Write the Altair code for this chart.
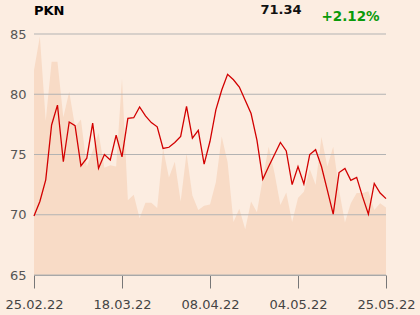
import altair as alt
import pandas as pd

# closing prices (trading-day index 0..60)
price = [69.9, 71.1, 72.9, 77.45, 79.1, 74.4, 77.7, 77.4, 74.05, 74.7,
         77.6, 73.85, 75.0, 74.55, 76.6, 74.8, 78.0, 78.05, 78.95, 78.2,
         77.65, 77.3, 75.5, 75.6, 76.0, 76.5, 79.0, 76.35, 77.0, 74.2,
         76.1, 78.7, 80.35, 81.65, 81.2, 80.6, 79.5, 78.4, 76.2, 72.95,
         74.0, 75.0, 76.0, 75.3, 72.5, 74.0, 72.55, 75.0, 75.4, 74.0,
         72.05, 70.05, 73.5, 73.85, 72.85, 73.1, 71.5, 70.05, 72.6, 71.8,
         71.34]
# background volume-like area (drawn on price scale)
volume = [82.0, 84.8, 77.8, 82.7, 82.7, 78.1, 80.2, 77.3, 77.9, 74.0,
          75.3, 76.8, 73.9, 74.1, 74.0, 81.3, 71.2, 71.65, 69.7, 71.0,
          71.0, 70.55, 75.5, 73.1, 74.4, 71.1, 75.1, 71.6, 70.4, 70.75,
          70.85, 72.7, 76.5, 74.35, 69.4, 70.5, 68.8, 71.1, 70.2, 73.0,
          75.65, 73.45, 70.8, 71.85, 69.4, 71.4, 71.9, 73.8, 72.5, 76.45,
          74.0, 75.65, 72.05, 69.35, 70.95, 71.8, 71.8, 71.95, 70.4, 70.95,
          70.6]
tick_index = [0, 15, 30, 45, 60]
tick_labels = ["25.02.22", "18.03.22", "08.04.22", "04.05.22", "25.05.22"]
y_ticks = [65, 70, 75, 80, 85]

df = pd.DataFrame({"i": list(range(len(price))), "price": price, "vol": volume})
gdf = pd.DataFrame({"g": y_ticks})

label_map = "{" + ",".join(f"'{i}':'{l}'" for i, l in zip(tick_index, tick_labels)) + "}"

xscale = alt.Scale(domain=[0, 60], nice=False, zero=False)
yscale = alt.Scale(domain=[65, 85], nice=False, zero=False)

x_axis = alt.Axis(values=tick_index, labelExpr=f"{label_map}[datum.value]",
                  grid=False, domain=True, domainColor="#a8a8a8", ticks=True,
                  tickSize=13, tickColor="#777777", labelFlush=False,
                  labelFontSize=13, labelColor="#444444", labelPadding=10,
                  labelFont="DejaVu Sans", title=None, zindex=1)
y_axis = alt.Axis(values=y_ticks, grid=False, domain=False,
                  ticks=False, labelFontSize=13, labelColor="#555555",
                  labelPadding=8, labelFont="DejaVu Sans", title=None)

area = alt.Chart(df).mark_area(color="#f8dbc6").encode(
    x=alt.X("i:Q", scale=xscale, axis=x_axis),
    y=alt.Y("vol:Q", scale=yscale, axis=y_axis),
    y2=alt.datum(65),
)
grid = alt.Chart(gdf).mark_rule(color="#b3b3b3", strokeWidth=1).encode(
    y=alt.Y("g:Q", scale=yscale),
)
line = alt.Chart(df).mark_line(color="#d20000", strokeWidth=1.3).encode(
    x=alt.X("i:Q", scale=xscale),
    y=alt.Y("price:Q", scale=yscale),
)

labels = pd.DataFrame({"t": ["PKN", "71.34", "+2.12%"]})
t1 = alt.Chart(labels).transform_filter("datum.t == 'PKN'").mark_text(
    font="DejaVu Sans", fontSize=13, fontWeight="bold", color="#000000",
    align="left", baseline="alphabetic").encode(
    text="t:N", x=alt.value(0), y=alt.value(-19))
t2 = alt.Chart(labels).transform_filter("datum.t == '71.34'").mark_text(
    font="DejaVu Sans", fontSize=13, fontWeight="bold", color="#111111",
    align="left", baseline="alphabetic").encode(
    text="t:N", x=alt.value(226.5), y=alt.value(-20))
t3 = alt.Chart(labels).transform_filter("datum.t == '+2.12%'").mark_text(
    font="DejaVu Sans", fontSize=13.5, fontWeight="bold", color="#0a9a0a",
    align="left", baseline="alphabetic").encode(
    text="t:N", x=alt.value(287.5), y=alt.value(-13))

chart = alt.layer(area, grid, line, t1, t2, t3).properties(
    width=352, height=241,
    autosize=alt.AutoSizeParams(type="none"),
    padding={"left": 34, "top": 34, "right": 34, "bottom": 40},
    background="#fcede1",
).configure_view(stroke=None)

chart.save("out.html", embed_options={"renderer": "svg", "actions": False})
